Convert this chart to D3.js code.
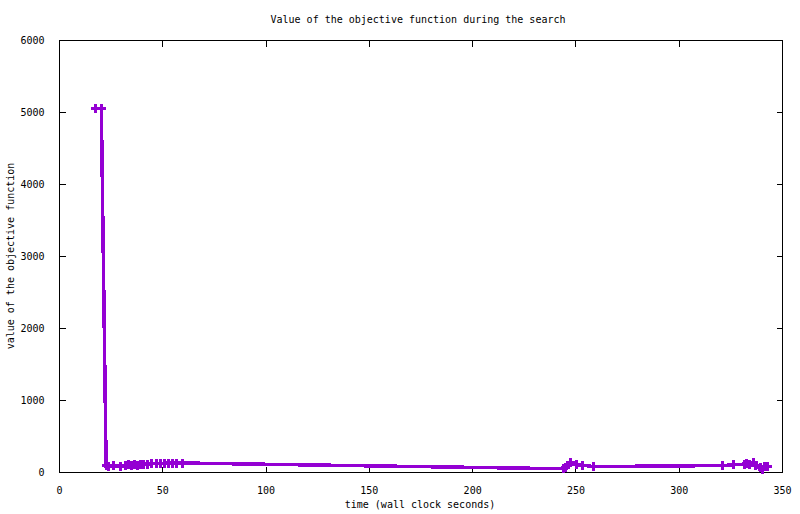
<!DOCTYPE html>
<html>
<head>
<meta charset="utf-8">
<script src="https://cdn.jsdelivr.net/npm/d3@7.9.0/dist/d3.min.js"></script>
<style>
  body { margin: 0; background: #fff; }
  svg text { font-family: "DejaVu Sans Mono", monospace; font-size: 10px; fill: #000; }
  .axis path { display: none; }
  .axis line { stroke: #000; stroke-width: 1; }
</style>
</head>
<body>
<svg id="chart" width="800" height="514"></svg>
<script>
// time in wall clock seconds
const times = [17.6, 20.5, 22.8, 24.0, 26.5, 29.8, 32.0, 33.5, 35.0, 36.5,
               38.0, 39.5, 41.0, 43.0, 45.0, 47.0, 49.0, 51.0, 53.0, 55.0,
               57.0, 59.6, 244.0, 245.0, 247.5, 250.5, 253.6, 258.8, 321.4, 326.4,
               332.0, 333.0, 334.5, 336.0, 337.0, 339.5, 340.5, 341.5, 342.8];
// value of the objective function
const values = [5050, 5050, 85, 80, 90, 75, 95, 100, 90, 105,
                95, 100, 110, 105, 115, 120, 115, 125, 120, 125,
                120, 125, 45, 60, 135, 105, 95, 75, 90, 100,
                110, 120, 100, 130, 90, 60, 35, 80, 70];
const xTicks = [0, 50, 100, 150, 200, 250, 300, 350];
const yTicks = [0, 1000, 2000, 3000, 4000, 5000, 6000];

const titleText = 'Value of the objective function during the search';
const xLabel = 'time (wall clock seconds)';
const yLabel = 'value of the objective function';

const color = '#9400d3';
const mLeft = 59, mRight = 782, mTop = 40, mBottom = 472;

const svg = d3.select('#chart');
const x = d3.scaleLinear().domain([0, 350]).range([mLeft, mRight]);
const y = d3.scaleLinear().domain([0, 6000]).range([mBottom, mTop]);

// 테두리
svg.append('rect')
   .attr('x', mLeft + 0.5).attr('y', mTop + 0.5)
   .attr('width', mRight - mLeft).attr('height', mBottom - mTop)
   .attr('fill', 'none').attr('stroke', '#000')
   .attr('shape-rendering', 'crispEdges');

// 축 (안쪽 눈금)
svg.append('g').attr('class', 'axis')
   .attr('transform', `translate(0,${mBottom + 0.5})`)
   .call(d3.axisBottom(x).tickValues(xTicks).tickSize(-6).tickPadding(14).tickFormat(d3.format('d')));
svg.append('g').attr('class', 'axis')
   .attr('transform', `translate(0,${mTop + 0.5})`)
   .call(d3.axisTop(x).tickValues(xTicks).tickSize(-6).tickFormat(''));
svg.append('g').attr('class', 'axis')
   .attr('transform', `translate(${mLeft + 0.5},0)`)
   .call(d3.axisLeft(y).tickValues(yTicks).tickSize(-6).tickPadding(15).tickFormat(d3.format('d')));
svg.append('g').attr('class', 'axis')
   .attr('transform', `translate(${mRight + 0.5},0)`)
   .call(d3.axisRight(y).tickValues(yTicks).tickSize(-6).tickFormat(''));

svg.selectAll('.axis line').attr('shape-rendering', 'crispEdges');
svg.selectAll('.axis text').attr('font-family', null).attr('font-size', null);

// 제목 / 라벨
svg.append('text').attr('x', 418).attr('y', 23).attr('text-anchor', 'middle').text(titleText);
svg.append('text').attr('x', 420).attr('y', 508).attr('text-anchor', 'middle').text(xLabel);
svg.append('text')
   .attr('transform', 'translate(14,256) rotate(-90)')
   .attr('text-anchor', 'middle').text(yLabel);

// 데이터 선 + 점
const data = times.map((t, i) => ({ t, v: values[i] }));

svg.append('path')
   .datum(data)
   .attr('d', d3.line().x(d => x(d.t)).y(d => y(d.v)))
   .attr('fill', 'none')
   .attr('stroke', color)
   .attr('stroke-width', 3.5)
   .attr('stroke-linejoin', 'miter')
   .attr('shape-rendering', 'crispEdges');

const s = 4.5;
svg.append('g')
   .selectAll('path')
   .data(data)
   .join('path')
   .attr('d', d => `M${x(d.t) - s},${y(d.v)}H${x(d.t) + s}M${x(d.t)},${y(d.v) - s}V${y(d.v) + s}`)
   .attr('stroke', color)
   .attr('stroke-width', 3)
   .attr('fill', 'none')
   .attr('shape-rendering', 'crispEdges');
</script>
</body>
</html>
